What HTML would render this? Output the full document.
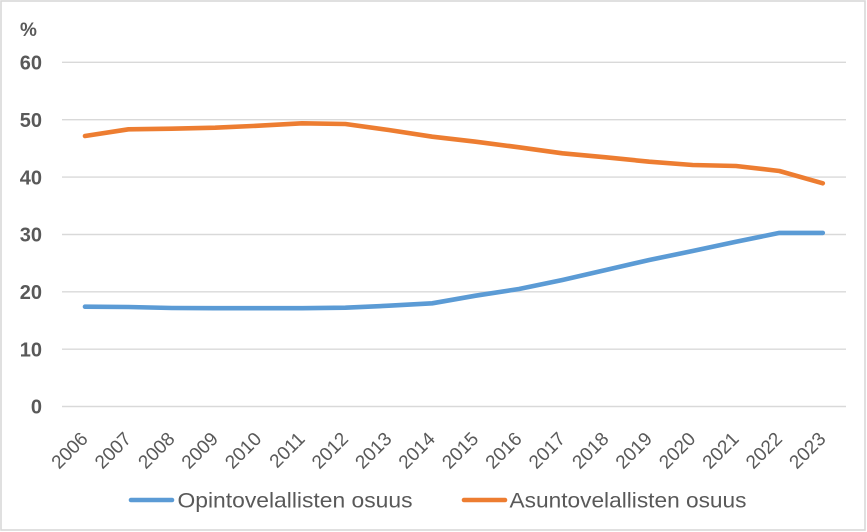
<!DOCTYPE html>
<html>
<head>
<meta charset="utf-8">
<style>
  html, body { margin: 0; padding: 0; background: #ffffff; }
  svg { display: block; }
  text { font-family: "Liberation Sans", sans-serif; fill: #595959; }
</style>
</head>
<body>
<svg width="867" height="532" viewBox="0 0 867 532" xmlns="http://www.w3.org/2000/svg">
  <rect x="0" y="0" width="867" height="532" fill="#ffffff"/>
  <rect x="1" y="1" width="864" height="529" fill="none" stroke="#d9d9d9" stroke-width="1.6"/>

  <!-- gridlines -->
  <g stroke="#d9d9d9" stroke-width="1.4">
    <line x1="62" y1="62.3" x2="846" y2="62.3"/>
    <line x1="62" y1="119.7" x2="846" y2="119.7"/>
    <line x1="62" y1="177.1" x2="846" y2="177.1"/>
    <line x1="62" y1="234.5" x2="846" y2="234.5"/>
    <line x1="62" y1="291.8" x2="846" y2="291.8"/>
    <line x1="62" y1="349.2" x2="846" y2="349.2"/>
    <line x1="62" y1="406.5" x2="846" y2="406.5"/>
  </g>

  <!-- y axis labels -->
  <g font-size="20" font-weight="bold" text-anchor="end">
    <text x="42" y="69.5">60</text>
    <text x="42" y="126.9">50</text>
    <text x="42" y="184.3">40</text>
    <text x="42" y="241.7">30</text>
    <text x="42" y="299">20</text>
    <text x="42" y="356.4">10</text>
    <text x="42" y="413.7">0</text>
  </g>
  <text x="20" y="36" font-size="19" font-weight="bold">%</text>

  <!-- x axis labels -->
  <g font-size="19" text-anchor="end">
    <text transform="translate(89,440) rotate(-45)">2006</text>
    <text transform="translate(132.4,440) rotate(-45)">2007</text>
    <text transform="translate(175.8,440) rotate(-45)">2008</text>
    <text transform="translate(219.2,440) rotate(-45)">2009</text>
    <text transform="translate(262.6,440) rotate(-45)">2010</text>
    <text transform="translate(306,440) rotate(-45)">2011</text>
    <text transform="translate(349.4,440) rotate(-45)">2012</text>
    <text transform="translate(392.8,440) rotate(-45)">2013</text>
    <text transform="translate(436.2,440) rotate(-45)">2014</text>
    <text transform="translate(479.6,440) rotate(-45)">2015</text>
    <text transform="translate(523,440) rotate(-45)">2016</text>
    <text transform="translate(566.4,440) rotate(-45)">2017</text>
    <text transform="translate(609.8,440) rotate(-45)">2018</text>
    <text transform="translate(653.2,440) rotate(-45)">2019</text>
    <text transform="translate(696.6,440) rotate(-45)">2020</text>
    <text transform="translate(740,440) rotate(-45)">2021</text>
    <text transform="translate(783.4,440) rotate(-45)">2022</text>
    <text transform="translate(826.8,440) rotate(-45)">2023</text>
  </g>

  <!-- series -->
  <polyline fill="none" stroke="#5B9BD5" stroke-width="4.6" stroke-linecap="round" stroke-linejoin="round"
    points="85,306.7 128.4,307 171.8,308 215.2,308.2 258.6,308.2 302,308.2 345.4,307.7 388.8,305.7 432.2,303.3 475.6,295.7 519,289 562.4,280 605.8,270 649.2,260 692.6,251 736,241.7 779.4,232.9 822.8,232.9"/>
  <polyline fill="none" stroke="#ED7D31" stroke-width="4.6" stroke-linecap="round" stroke-linejoin="round"
    points="85,136 128.4,129.3 171.8,128.7 215.2,127.7 258.6,125.7 302,123.3 345.4,124 388.8,130 432.2,136.7 475.6,141.7 519,147.3 562.4,153.3 605.8,157.3 649.2,161.7 692.6,165 736,166 779.4,171 822.8,183.3"/>

  <!-- legend -->
  <line x1="131" y1="500" x2="172" y2="500" stroke="#5B9BD5" stroke-width="4.6" stroke-linecap="round"/>
  <text x="177.5" y="507.5" font-size="21" textLength="235" lengthAdjust="spacingAndGlyphs">Opintovelallisten osuus</text>
  <line x1="464" y1="500" x2="505" y2="500" stroke="#ED7D31" stroke-width="4.6" stroke-linecap="round"/>
  <text x="509.5" y="507.5" font-size="21" textLength="237" lengthAdjust="spacingAndGlyphs">Asuntovelallisten osuus</text>
</svg>
</body>
</html>
